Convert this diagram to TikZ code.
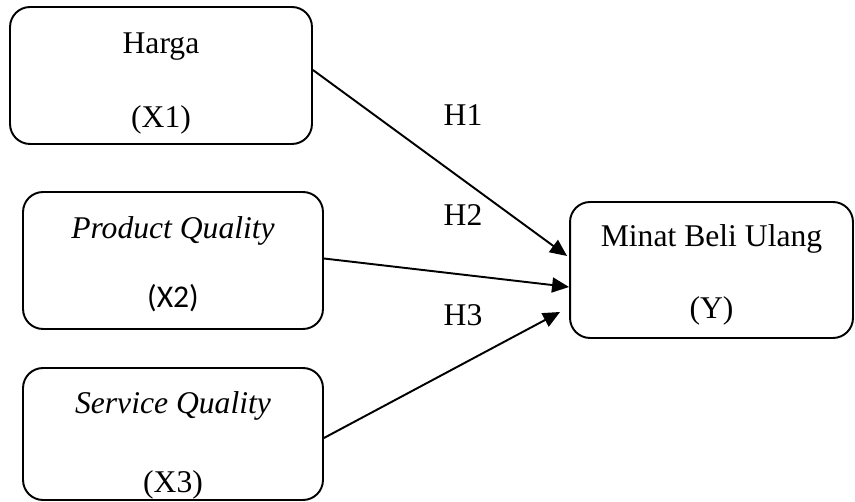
\documentclass[tikz,border=0pt]{standalone}
\usepackage{fontspec}
\setmainfont{Liberation Serif}
\newfontfamily\calibri{Carlito}
\usetikzlibrary{arrows.meta}

\begin{document}
\begin{tikzpicture}[x=0.02cm,y=-0.02cm,>={Triangle[length=0.34cm,width=0.3cm]},
 font=\fontsize{18}{22}\selectfont,
 var/.style={draw,line width=1.1pt,rounded corners=0.4cm,align=center,minimum width=6cm,minimum height=2.7cm},
 hyp/.style={inner sep=0pt}]
\useasboundingbox (0,0) rectangle (855,502);
\node[var,minimum width=6.04cm,minimum height=2.74cm] (harga) at (161,75.5) {\rule{0pt}{21pt}Harga\\[20pt](X1)};
\node[var,minimum height=2.74cm] (pq) at (173,260.5) {\rule{0pt}{17pt}\textit{Product Quality}\\[17pt]{\calibri (X2)}};
\node[var,minimum height=2.64cm,inner ysep=0pt] (sq) at (173,434) {\rule{0pt}{25pt}\textit{Service Quality}\\[23pt](X3)};
\node[var,minimum width=5.66cm,minimum height=2.72cm] (minat) at (711.5,270) {\rule{0pt}{18pt}Minat Beli Ulang\\[19pt](Y)};
\node[hyp] (h1) at (463,115) {H1};
\node[hyp] (h2) at (463,215) {H2};
\node[hyp] (h3) at (463,315) {H3};
\draw[->,line width=1.1pt] ([yshift=0.11cm]harga.east)--([xshift=-0.04cm,yshift=0.28cm]minat.west);
\draw[->,line width=1.1pt] ([yshift=0.04cm]pq.east)--([yshift=-0.34cm]minat.west);
\draw[->,line width=1.1pt] ([yshift=-0.08cm]sq.east)--([xshift=-0.18cm,yshift=-0.84cm]minat.west);
\end{tikzpicture}
\end{document}
